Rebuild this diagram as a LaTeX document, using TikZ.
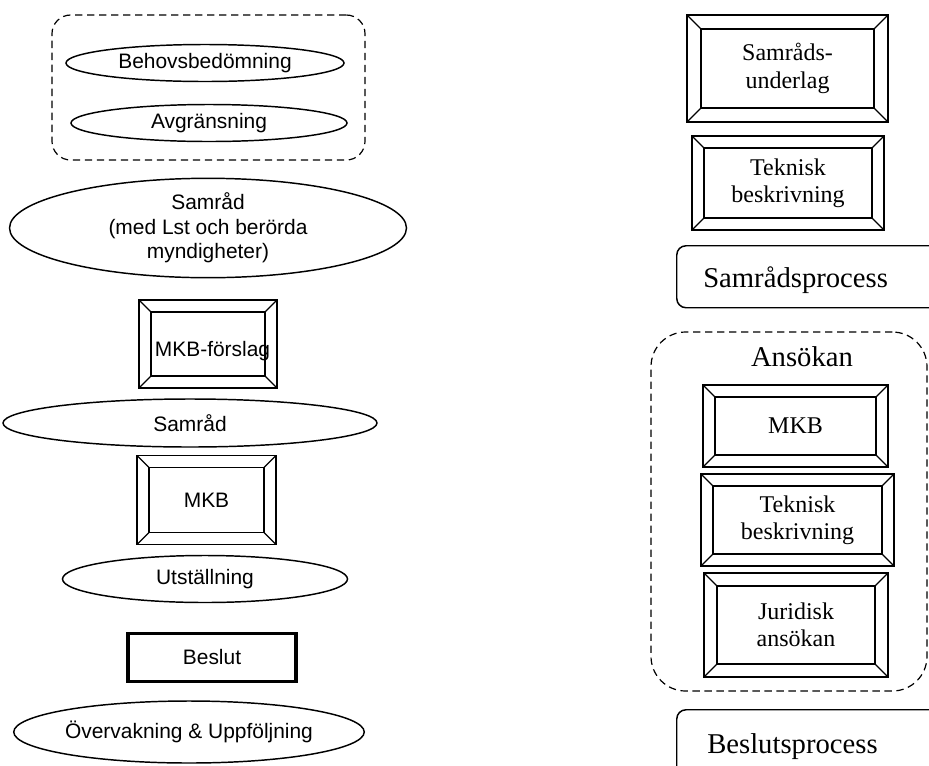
\documentclass[tikz,border=0pt]{standalone}
\usepackage{fontspec}
\setmainfont{Liberation Serif}
\newfontfamily\arialf{Liberation Sans}
\usetikzlibrary{shapes.geometric}
\tikzset{
  bevel inset/.store in=\bevelinset, bevel inset=9pt,
  ell/.style={draw, ellipse, line width=1.1pt, inner sep=0pt, align=center,
    font=\arialf\fontsize{15.7}{18.4}\selectfont},
  bevel/.style={draw, rectangle, line width=1.1pt, inner sep=0pt, align=center,
    font=\fontsize{18}{20.5}\selectfont,
    path picture={
      \draw[line width=1.1pt]
        ([shift={(\bevelinset,-\bevelinset)}]path picture bounding box.north west)
        rectangle ([shift={(-\bevelinset,\bevelinset)}]path picture bounding box.south east);
      \draw[line width=0.9pt] (path picture bounding box.north west) -- ++(\bevelinset,-\bevelinset);
      \draw[line width=0.9pt] (path picture bounding box.north east) -- ++(-\bevelinset,-\bevelinset);
      \draw[line width=0.9pt] (path picture bounding box.south west) -- ++(\bevelinset,\bevelinset);
      \draw[line width=0.9pt] (path picture bounding box.south east) -- ++(-\bevelinset,\bevelinset);
    }},
  grp/.style={draw, line width=0.9pt, dash pattern=on 5.5pt off 3.5pt, rectangle, inner sep=0pt},
  procbox/.style={draw, line width=1.1pt, rectangle, rounded corners=7pt, inner sep=0pt, anchor=north west},
  proctext/.style={font=\fontsize{21.5}{24}\selectfont, inner sep=0pt, anchor=base west},
}
\begin{document}
\begin{tikzpicture}[x=0.75pt,y=-0.75pt]
\useasboundingbox (0,0) rectangle (929,765);
\clip (0,0) rectangle (929,765);
% left column
\node[grp, rounded corners=14pt, minimum width=234.75pt, minimum height=108.75pt] (g1) at (208.5,87.5) {};
\node[ell, minimum width=208.5pt, minimum height=27.75pt] (e1) at (205,63) {Behovsbedömning};
\node[ell, minimum width=207pt, minimum height=27.75pt] (e2) at (209,123) {Avgränsning};
\node[ell, minimum width=297.75pt, minimum height=71.25pt] (e3) at (208,228) {Samråd\\(med Lst och berörda\\myndigheter)};
\node[bevel, font=\arialf\fontsize{15.7}{18.4}\selectfont, minimum width=103.5pt, minimum height=66pt] (b1) at (208,344) {};
\node[font=\arialf\fontsize{15.7}{18.4}\selectfont, inner sep=0pt] (t1) at (212.5,351) {MKB-förslag};
\node[ell, minimum width=280.5pt, minimum height=36pt] (e4) at (190,423) {Samråd};
\node[bevel, font=\arialf\fontsize{15.7}{18.4}\selectfont, minimum width=104.25pt, minimum height=66.75pt] (b2) at (206.5,500) {MKB};
\node[ell, minimum width=213.75pt, minimum height=35.25pt] (e5) at (205,579) {Utställning};
\node[draw, line width=2.3pt, rectangle, inner sep=0pt, minimum width=126pt, minimum height=35.5pt,
  font=\arialf\fontsize{15.7}{18.4}\selectfont] (b3) at (212,657.5) {Beslut};
\node[ell, minimum width=246pt, minimum height=46.5pt] (e6) at (189,732) {Övervakning \& Uppföljning};
% right column
\node[bevel, bevel inset=10.5pt, minimum width=150.75pt, minimum height=80.25pt] (r1) at (787.5,68.5) {Samråds-\\underlag};
\node[bevel, minimum width=144pt, minimum height=70.5pt] (r2) at (788,183) {Teknisk\\beskrivning};
\node[procbox, minimum width=213pt, minimum height=46.5pt] (p1) at (676,245) {};
\node[proctext] (p1t) at (703,287) {Samrådsprocess};
\node[grp, rounded corners=26pt, minimum width=207pt, minimum height=269.25pt] (g2) at (789,511.5) {};
\node[font=\fontsize{21.5}{24}\selectfont, inner sep=0pt] (ans) at (802,357) {Ansökan};
\node[bevel, minimum width=138.75pt, minimum height=61.5pt] (r3) at (795.5,426) {MKB};
\node[bevel, minimum width=144.75pt, minimum height=69pt] (r4) at (797.5,520) {Teknisk\\beskrivning};
\node[bevel, bevel inset=9.75pt, minimum width=138pt, minimum height=78pt] (r5) at (796,625) {Juridisk\\ansökan};
\node[procbox, minimum width=213pt, minimum height=70pt] (p2) at (676,709) {};
\node[proctext] (p2t) at (707,753) {Beslutsprocess};
\end{tikzpicture}
\end{document}
